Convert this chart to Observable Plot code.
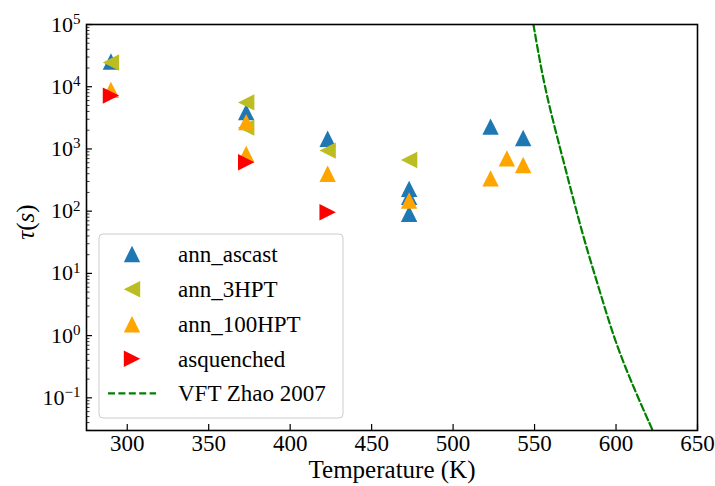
<!DOCTYPE html>
<html>
<head>
<meta charset="utf-8">
<script src="https://cdn.jsdelivr.net/npm/d3@7"></script>
<script src="https://cdn.jsdelivr.net/npm/@observablehq/plot@0.6"></script>
<style>
  html, body { margin: 0; padding: 0; background: white; }
  #chart svg { display: block; }
</style>
</head>
<body>
<div id="chart"></div>
<script>
// ---- data ----
const ascastT   = [290, 373, 423, 473, 473, 473, 523, 543];
const ascastTau = [25500, 3900, 1460, 228, 170, 91, 2280, 1500];

const hpt3T   = [290, 373, 373, 423, 473];
const hpt3Tau = [24500, 5600, 2200, 940, 665];

const hpt100T   = [290, 373, 373, 423, 473, 523, 533, 543];
const hpt100Tau = [8900, 2700, 830, 400, 148, 337, 706, 553];

const quenchT   = [290, 373, 423];
const quenchTau = [7200, 610, 96];

const vftT   = [549.3, 553.5, 558.6, 567.4, 574.0, 581.1, 589.9, 598.5, 608.8, 622.5];
const vftTau = [100000, 23100, 5270, 690, 148, 29.9, 5.32, 0.946, 0.191, 0.0299];

const xTicks = [300, 350, 400, 450, 500, 550, 600, 650];
const yMajor = [0.1, 1, 10, 100, 1000, 10000, 100000];
const yMinorFactors = [2, 3, 4, 5, 6, 7, 8, 9];
const yMinorDecades = [0.01, 0.1, 1, 10, 100, 1000, 10000];

const seriesNames  = ["ann_ascast", "ann_3HPT", "ann_100HPT", "asquenched", "VFT Zhao 2007"];
const seriesColors = ["#1f77b4", "#bcbd22", "#ffa500", "#ff0000", "#008000"];

// ---- helpers ----
const xDomain = [275, 650];
const yDomain = [Math.pow(10, -1.525), 1e5];
const yMinor = yMinorDecades.flatMap(d => yMinorFactors.map(f => f * d))
  .filter(v => v > yDomain[0] && v < yDomain[1]);

function tri(dir) {
  return {
    draw(ctx, size) {
      const s = Math.sqrt(size / Math.PI);
      if (dir === "up") { ctx.moveTo(0, -s); ctx.lineTo(-s, s); ctx.lineTo(s, s); }
      else if (dir === "left") { ctx.moveTo(-s, 0); ctx.lineTo(s, -s); ctx.lineTo(s, s); }
      else { ctx.moveTo(s, 0); ctx.lineTo(-s, -s); ctx.lineTo(-s, s); }
      ctx.closePath();
    }
  };
}
const symbols = [tri("up"), tri("left"), tri("up"), tri("right")];
const R = 8.2;

const rows = (T, tau) => T.map((t, i) => ({T: t, tau: tau[i]}));
const ascast = rows(ascastT, ascastTau);
const hpt3 = rows(hpt3T, hpt3Tau);
const hpt100 = rows(hpt100T, hpt100Tau);
const quench = rows(quenchT, quenchTau);
const vft = rows(vftT, vftTau);

const W = 715, H = 486, mL = 86, mR = 18, mT = 24, mB = 56;
const fw = W - mL - mR, fh = H - mT - mB;
const serif = "'Liberation Serif', 'Times New Roman', serif";

const chart = Plot.plot({
  width: W, height: H,
  marginLeft: mL, marginRight: mR, marginTop: mT, marginBottom: mB,
  style: {fontFamily: serif, background: "white", color: "black"},
  x: {domain: xDomain},
  y: {type: "log", domain: yDomain},
  marks: [
    Plot.line(vft, {x: "T", y: "tau", stroke: seriesColors[4], strokeWidth: 2.2, strokeDasharray: "7,3.4", curve: "basis", clip: true}),
    Plot.dot(ascast, {x: "T", y: "tau", symbol: symbols[0], r: R, fill: seriesColors[0]}),
    Plot.dot(hpt3, {x: "T", y: "tau", symbol: symbols[1], r: R, fill: seriesColors[1]}),
    Plot.dot(hpt100, {x: "T", y: "tau", symbol: symbols[2], r: R, fill: seriesColors[2]}),
    Plot.dot(quench, {x: "T", y: "tau", symbol: symbols[3], r: R, fill: seriesColors[3]}),
    Plot.tickX(xTicks, {x: d => d, insetTop: fh - 6, stroke: "black", strokeWidth: 1.2}),
    Plot.tickY(yMajor, {y: d => d, insetRight: fw - 6, stroke: "black", strokeWidth: 1.2}),
    Plot.tickY(yMinor, {y: d => d, insetRight: fw - 3.5, stroke: "black", strokeWidth: 0.8}),
    Plot.axisX({ticks: xTicks, tickSize: 0, tickPadding: 4, fontSize: 23, label: null, tickFormat: d => String(d)}),
    Plot.axisY({ticks: yMajor, tickSize: 0, tickPadding: 6, fontSize: 22, label: null,
      tickFormat: d => String(Math.round(Math.log10(d)))}),
    Plot.text(["Temperature (K)"], {frameAnchor: "bottom", dy: 39, lineAnchor: "middle", fontSize: 25}),
    Plot.frame({stroke: "black", strokeWidth: 1.6})
  ]
});
document.getElementById("chart").appendChild(chart);

const svg = d3.select(chart);

// superscript y tick labels: 10^k
svg.selectAll('g[aria-label="y-axis tick label"] text').each(function() {
  const t = d3.select(this);
  const k = t.text().replace("-", "\u2212");
  t.text(null);
  t.append("tspan").text("10");
  t.append("tspan").attr("dy", "-0.5em").attr("font-size", 15).text(k);
});

// y axis label τ(s)
svg.append("text")
  .attr("transform", `translate(25, 222) rotate(-90)`)
  .attr("text-anchor", "middle")
  .attr("dy", "0.35em")
  .attr("font-size", 25)
  .attr("font-family", serif)
  .call(t => {
    t.append("tspan").attr("font-style", "italic").text("\u03c4");
    t.append("tspan").text("(");
    t.append("tspan").attr("font-style", "italic").text("s");
    t.append("tspan").text(")");
  });

// legend
const lg = svg.append("g").attr("font-family", serif).attr("font-size", 23).attr("text-anchor", "start");
lg.append("rect").attr("x", 99).attr("y", 234).attr("width", 244).attr("height", 184)
  .attr("rx", 4).attr("fill", "white").attr("fill-opacity", 0.8)
  .attr("stroke", "#cccccc").attr("stroke-width", 1);
const rowY = [254, 289.3, 324.3, 358.8, 393.3];
seriesNames.forEach((name, i) => {
  const y = rowY[i];
  if (i < 4) {
    const p = d3.path();
    symbols[i].draw(p, R * R * Math.PI);
    lg.append("path").attr("transform", `translate(132,${y})`).attr("d", p.toString()).attr("fill", seriesColors[i]);
  } else {
    lg.append("line").attr("x1", 108).attr("x2", 156).attr("y1", y).attr("y2", y)
      .attr("stroke", seriesColors[i]).attr("stroke-width", 2.2).attr("stroke-dasharray", "7,3.4");
  }
  lg.append("text").attr("x", 178).attr("y", y).attr("dy", "0.35em").attr("text-anchor", "start").text(name);
});
</script>
</body>
</html>
